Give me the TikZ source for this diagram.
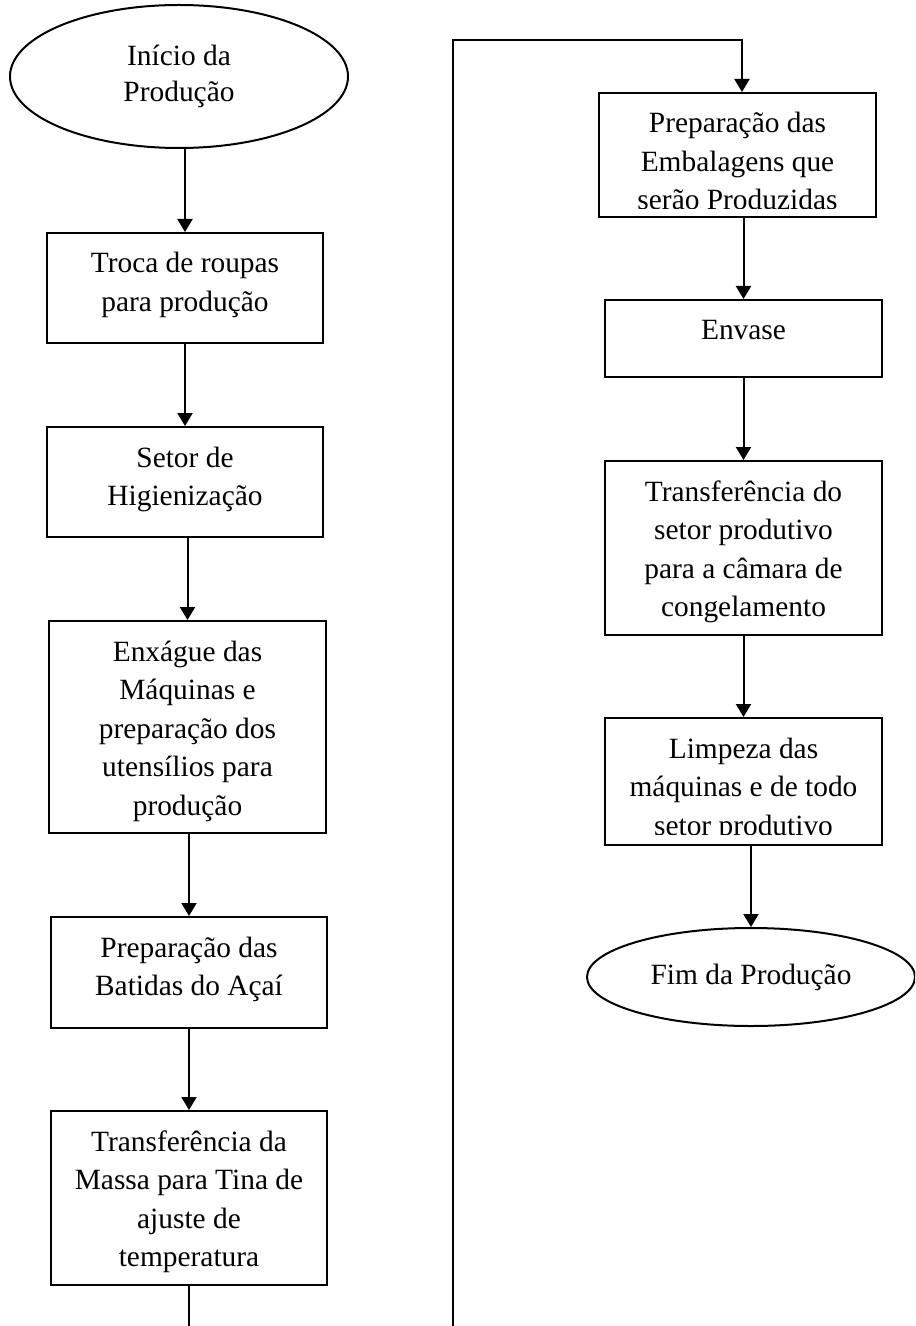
\documentclass[tikz,border=0pt]{standalone}
\usepackage{fontspec}
\setmainfont{Liberation Serif}
\usetikzlibrary{arrows.meta,shapes.geometric}
\tikzset{
	etapa/.style={draw, line width=1pt, anchor=north, inner sep=0pt, align=flush center, text width=138pt, text height=20pt, font=\fontsize{14.7pt}{19.25pt}\selectfont},
	inicio/.style={draw, ellipse, line width=1pt, inner sep=0pt, align=flush center, font=\fontsize{14.7pt}{18pt}\selectfont},
	seta/.style={line width=1pt, -{Triangle[length=6.5pt,width=7.5pt]}},
}
\begin{document}
\begin{tikzpicture}[x=0.5pt,y=-0.5pt]
			\useasboundingbox (0,0) rectangle (915,1326);
			\clip (0,0) rectangle (915,1326);
			% coluna da esquerda
			\node[inicio, minimum width=169pt, minimum height=71.5pt] (ini) at (179,76.5) {Início da\\Produção};
			\node[etapa, text depth=35pt] (troca) at (185,232) {Troca de roupas\\para produção};
			\node[etapa, text depth=35pt] (higi) at (185,426) {Setor de\\Higienização};
			\node[etapa, text width=138.5pt, text depth=86pt] (enxague) at (187.5,620) {Enxágue das\\Máquinas e\\preparação dos\\utensílios para\\produção};
			\node[etapa, text depth=35.5pt] (batida) at (189,916) {Preparação das\\Batidas do Açaí};
			\node[etapa, text depth=67pt] (transf) at (189,1110) {Transferência da\\Massa para Tina de\\ajuste de\\temperatura};
			% coluna da direita
			\node[etapa, text width=138.5pt, text depth=42pt] (embal) at (737.5,92) {Preparação das\\Embalagens que\\serão Produzidas};
			\node[etapa, text width=138.5pt, text depth=18.5pt] (envase) at (743.5,299) {Envase};
			\node[etapa, text width=138.5pt, text depth=67pt] (camara) at (743.5,460) {Transferência do\\setor produtivo\\para a câmara de\\congelamento};
			\node[etapa, text width=138.5pt, text depth=43.5pt] (limpeza) at (743.5,717) {Limpeza das\\máquinas e de todo\\setor produtivo};
			\node[inicio, minimum width=164pt, minimum height=49pt] (fim) at (751,977) {Fim da Produção};
			% texto cortado no fundo das caixas
			\fill[white] ([shift={(1.3pt,1.3pt)}]embal.south west) rectangle ([shift={(-1.3pt,4.5pt)}]embal.south east);
			\fill[white] ([shift={(1.3pt,1.3pt)}]limpeza.south west) rectangle ([shift={(-1.3pt,5.5pt)}]limpeza.south east);
			\foreach \a/\b in {ini/troca,troca/higi,higi/enxague,enxague/batida,batida/transf,embal/envase,envase/camara,camara/limpeza,limpeza/fim}
				\draw[seta] (\a.south -| \b.north) -- (\b.north);
			% volta para o topo
			\coordinate (fundo) at (453,1380);
			\coordinate (topo) at (742,40);
			\draw[seta] (transf.south) |- (fundo) |- (topo) -- (topo |- embal.north);
		\end{tikzpicture}
\end{document}
